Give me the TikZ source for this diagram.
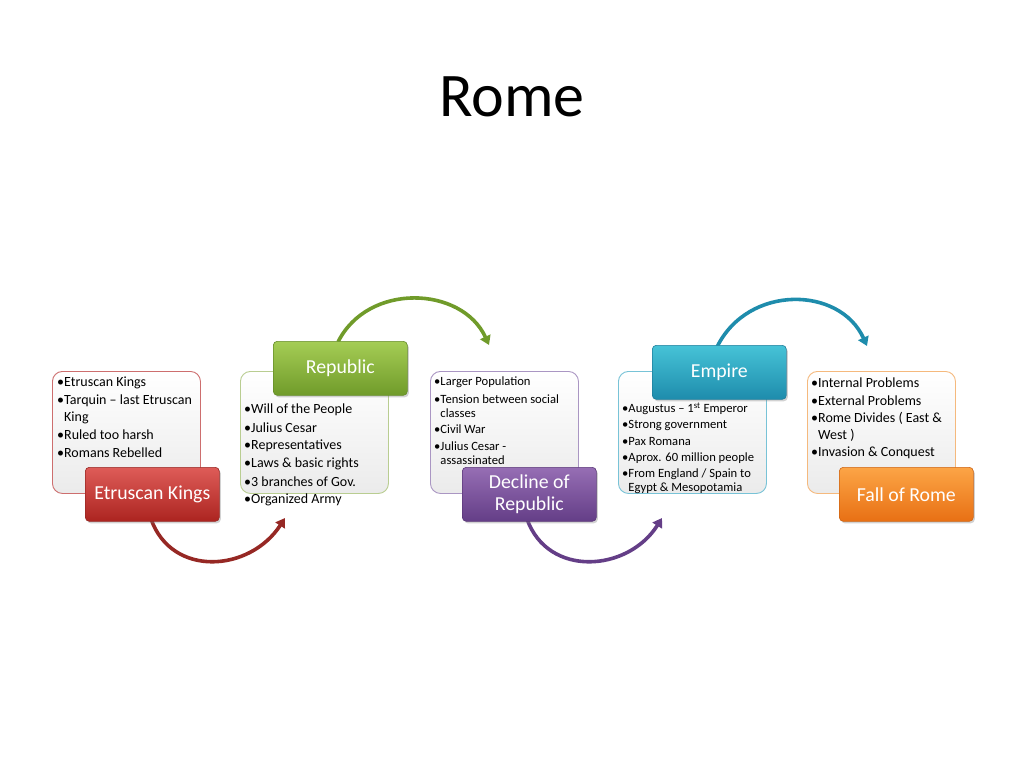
\documentclass[tikz,border=0pt]{standalone}
\usepackage{fontspec}
\setmainfont{Carlito}
\usetikzlibrary{arrows.meta,shadows}
\definecolor{redT}{RGB}{222,92,88}\definecolor{redB}{RGB}{172,36,32}\definecolor{redD}{RGB}{150,40,36}
\definecolor{grnT}{RGB}{165,205,85}\definecolor{grnB}{RGB}{112,155,42}\definecolor{grnD}{RGB}{100,140,40}
\definecolor{purT}{RGB}{150,110,180}\definecolor{purB}{RGB}{100,62,135}\definecolor{purD}{RGB}{90,55,120}
\definecolor{cyaT}{RGB}{70,195,215}\definecolor{cyaB}{RGB}{30,140,172}\definecolor{cyaD}{RGB}{30,125,155}
\definecolor{orgT}{RGB}{252,165,70}\definecolor{orgB}{RGB}{232,112,20}\definecolor{orgD}{RGB}{205,100,20}
\definecolor{redL}{RGB}{205,110,110}\definecolor{grnL}{RGB}{185,205,145}\definecolor{purL}{RGB}{170,150,195}
\definecolor{cyaL}{RGB}{120,195,215}\definecolor{orgL}{RGB}{245,185,125}
\begin{document}
\begin{tikzpicture}[x=1pt,y=-1pt,
  tbox/.style={draw=#1, line width=0.9pt, rounded corners=10pt, top color=white, bottom color=black!8,
     minimum width=148pt, minimum height=122pt, anchor=north west, inner sep=0pt},
  lab/.style n args={3}{draw=#3, line width=0.6pt, rounded corners=4pt, top color=#1, bottom color=#2,
     minimum width=134pt, minimum height=54pt, anchor=north west, inner sep=0pt, text=white,
     font=\fontsize{19.8}{22}\selectfont, align=center, drop shadow={opacity=0.35, shadow xshift=1.5pt, shadow yshift=-2pt}},
  bula/.style={anchor=west, inner sep=0pt, align=left, font=\fontsize{14}{17}\selectfont},
  bulb/.style={anchor=west, inner sep=0pt, align=left, font=\fontsize{12.6}{14}\selectfont},
  arr/.style={draw=#1, line width=3.6pt, -{Triangle[length=9pt,width=11pt]}}
]
\useasboundingbox[fill=white] (0,0) rectangle (1024,768);
\node[font=\fontsize{62}{64}\selectfont] (title) at (512,97) {Rome};

% connector end points
\coordinate (r1) at (151,519); \coordinate (r2) at (285,518);
\coordinate (g1) at (338,342); \coordinate (g2) at (489,345);
\coordinate (p1) at (527,519); \coordinate (p2) at (662,518);
\coordinate (c1) at (717,347); \coordinate (c2) at (867,346);
\draw[arr=redD] (r1) .. controls (172,578) and (250,572) .. (r2);
\draw[arr=grnB] (g1) .. controls (368,282) and (462,286) .. (g2);
\draw[arr=purB] (p1) .. controls (548,578) and (628,572) .. (p2);
\draw[arr=cyaB] (c1) .. controls (748,284) and (840,286) .. (c2);

% block 1
\node[tbox=redL] (b1) at (52,371) {};
\node[bula] (b1a) at (57,383) {•Etruscan Kings};
\node[bula] (b1b) at (57,409) {•Tarquin – last Etruscan\\\hphantom{•}King};
\node[bula] (b1c) at (57,435) {•Ruled too harsh};
\node[bula] (b1d) at (57,453) {•Romans Rebelled};
\node[lab={redT}{redB}{redD}] (l1) at (85,467) {Etruscan Kings};

% block 2
\node[tbox=grnL] (b2) at (240,371) {};
\node[bula] (b2a) at (244,410) {•Will of the People};
\node[bula] (b2b) at (244,428) {•Julius Cesar};
\node[bula] (b2c) at (244,446) {•Representatives};
\node[bula] (b2d) at (244,464) {•Laws \& basic rights};
\node[bula] (b2e) at (244,482) {•3 branches of Gov.};
\node[bula] (b2f) at (244,500) {•Organized Army};
\node[lab={grnT}{grnB}{grnD}] (l2) at (273,341) {Republic};

% block 3
\node[tbox=purL] (b3) at (430,371) {};
\node[bulb] (b3a) at (434,382) {•Larger Population};
\node[bulb] (b3b) at (434,406) {•Tension between social\\\hphantom{•}classes};
\node[bulb] (b3c) at (434,429) {•Civil War};
\node[bulb] (b3d) at (434,453) {•Julius Cesar -\\\hphantom{•}assassinated};
\node[lab={purT}{purB}{purD}] (l3) at (462,467) {Decline of\\Republic};

% block 4
\node[tbox=cyaL] (b4) at (618,371) {};
\node[bulb] (b4a) at (622,409) {•Augustus – 1\textsuperscript{st} Emperor};
\node[bulb] (b4b) at (622,425) {•Strong government};
\node[bulb] (b4c) at (622,441) {•Pax Romana};
\node[bulb] (b4d) at (622,458) {•Aprox. 60 million people};
\node[bulb] (b4e) at (622,481) {•From England / Spain to\\\hphantom{•}Egypt \& Mesopotamia};
\node[lab={cyaT}{cyaB}{cyaD}] (l4) at (652,345) {Empire};

% block 5
\node[tbox=orgL] (b5) at (807,371) {};
\node[bula] (b5a) at (811,383) {•Internal Problems};
\node[bula] (b5b) at (811,401) {•External Problems};
\node[bula] (b5c) at (811,427) {•Rome Divides ( East \&\\\hphantom{•}West )};
\node[bula] (b5d) at (811,453) {•Invasion \& Conquest};
\node[lab={orgT}{orgB}{orgD}] (l5) at (839,467) {Fall of Rome};
\end{tikzpicture}
\end{document}
